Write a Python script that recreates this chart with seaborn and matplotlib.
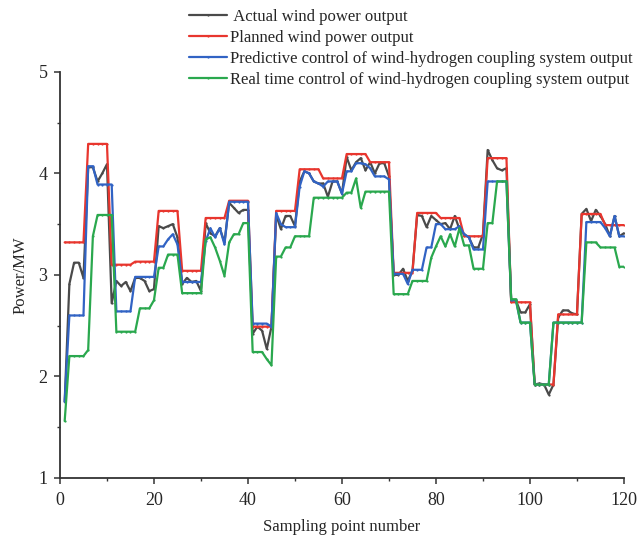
import numpy as np
import pandas as pd
import matplotlib
matplotlib.use("Agg")
import matplotlib.pyplot as plt
from matplotlib.ticker import MultipleLocator
import seaborn as sns

# Sampling points 1..120
sample_idx = list(range(1, 121))

actual_output = [
    1.75, 2.91, 3.12, 3.12, 2.97, 4.06, 4.06, 3.92, 4.00, 4.09,
    2.72, 2.94, 2.89, 2.93, 2.84, 2.97, 2.97, 2.94, 2.84, 2.86,
    3.48, 3.46, 3.48, 3.50, 3.37, 2.91, 2.97, 2.93, 2.94, 2.84,
    3.51, 3.41, 3.38, 3.46, 3.32, 3.71, 3.66, 3.61, 3.64, 3.64,
    2.42, 2.49, 2.45, 2.27, 2.49, 3.59, 3.45, 3.58, 3.58, 3.48,
    3.92, 4.02, 4.00, 3.92, 3.90, 3.90, 3.77, 3.92, 3.92, 3.80,
    4.16, 4.03, 4.11, 4.15, 4.03, 4.11, 4.00, 4.10, 4.10, 3.97,
    3.00, 3.00, 3.06, 2.94, 3.04, 3.59, 3.58, 3.47, 3.58, 3.54,
    3.50, 3.51, 3.45, 3.58, 3.45, 3.40, 3.37, 3.27, 3.27, 3.40,
    4.23, 4.13, 4.05, 4.03, 4.05, 2.75, 2.75, 2.63, 2.63, 2.71,
    1.92, 1.93, 1.92, 1.82, 1.92, 2.58, 2.65, 2.65, 2.62, 2.61,
    3.60, 3.65, 3.53, 3.64, 3.58, 3.50, 3.38, 3.58, 3.38, 3.41,
]

planned_output = (
    [3.32] * 5 + [4.29] * 5 + [3.10] * 5 + [3.13] * 5 +
    [3.63] * 5 + [3.04] * 5 + [3.56] * 5 + [3.73] * 5 +
    [2.49] * 5 + [3.63] * 5 + [4.04] * 5 + [3.95] * 5 +
    [4.19] * 5 + [4.11] * 5 + [3.02] * 5 + [3.61] * 5 +
    [3.56] * 5 + [3.38] * 5 + [4.15] * 5 + [2.73] * 5 +
    [1.92] * 5 + [2.61] * 5 + [3.60] * 5 + [3.49] * 5
)

predictive_output = [
    1.75, 2.60, 2.60, 2.60, 2.60, 4.07, 4.07, 3.89, 3.89, 3.89,
    3.89, 2.64, 2.64, 2.64, 2.64, 2.98, 2.98, 2.98, 2.98, 2.98,
    3.28, 3.28, 3.35, 3.40, 3.30, 2.93, 2.93, 2.93, 2.93, 2.93,
    3.33, 3.46, 3.37, 3.46, 3.30, 3.72, 3.72, 3.72, 3.72, 3.72,
    2.52, 2.52, 2.52, 2.52, 2.49, 3.61, 3.50, 3.47, 3.47, 3.47,
    3.87, 4.02, 4.00, 3.92, 3.90, 3.87, 3.92, 3.92, 3.92, 3.80,
    4.02, 4.02, 4.10, 4.10, 4.09, 4.05, 3.97, 3.97, 3.97, 3.94,
    3.01, 3.01, 3.01, 2.91, 3.05, 3.05, 3.05, 3.27, 3.27, 3.50,
    3.50, 3.45, 3.45, 3.45, 3.48, 3.40, 3.37, 3.25, 3.25, 3.25,
    3.92, 3.92, 3.92, 3.92, 3.92, 2.75, 2.75, 2.53, 2.53, 2.53,
    1.92, 1.92, 1.92, 1.92, 2.53, 2.53, 2.53, 2.53, 2.53, 2.53,
    2.53, 3.52, 3.52, 3.52, 3.52, 3.46, 3.38, 3.58, 3.38, 3.38,
]

realtime_output = [
    1.56, 2.20, 2.20, 2.20, 2.20, 2.26, 3.38, 3.59, 3.59, 3.59,
    3.59, 2.44, 2.44, 2.44, 2.44, 2.44, 2.67, 2.67, 2.67, 2.75,
    3.07, 3.07, 3.20, 3.20, 3.20, 2.82, 2.82, 2.82, 2.82, 2.82,
    3.35, 3.37, 3.27, 3.14, 2.99, 3.32, 3.40, 3.40, 3.51, 3.51,
    2.24, 2.24, 2.24, 2.17, 2.11, 3.18, 3.18, 3.27, 3.27, 3.38,
    3.38, 3.38, 3.38, 3.76, 3.76, 3.76, 3.76, 3.76, 3.76, 3.76,
    3.81, 3.81, 3.95, 3.66, 3.82, 3.82, 3.82, 3.82, 3.82, 3.82,
    2.81, 2.81, 2.81, 2.81, 2.94, 2.94, 2.94, 2.94, 3.17, 3.28,
    3.38, 3.28, 3.40, 3.28, 3.46, 3.29, 3.29, 3.06, 3.06, 3.06,
    3.51, 3.51, 3.92, 3.92, 3.92, 2.76, 2.76, 2.53, 2.53, 2.53,
    1.92, 1.92, 1.92, 1.92, 2.53, 2.53, 2.53, 2.53, 2.53, 2.53,
    2.53, 3.32, 3.32, 3.32, 3.27, 3.27, 3.27, 3.27, 3.08, 3.08,
]

series_labels = [
    " Actual wind power output",
    "Planned wind power output",
    "Predictive control of wind-hydrogen coupling system output",
    "Real time control of wind-hydrogen coupling system output",
]
series_colors = ["#4a4a4a", "#e8362e", "#3163c4", "#2aa84e"]

df = pd.DataFrame({
    "Sample": sample_idx * 4,
    "Power": actual_output + planned_output + predictive_output + realtime_output,
    "Series": sum([[lab] * 120 for lab in series_labels], []),
})

sns.set_style("ticks")
plt.rcParams["font.family"] = ["Liberation Serif", "DejaVu Serif"]

fig = plt.figure(figsize=(6.38, 5.40), dpi=100)
ax = fig.add_axes([0.094, 0.115, 0.884, 0.752])

sns.lineplot(
    data=df, x="Sample", y="Power", hue="Series",
    hue_order=series_labels, palette=series_colors,
    linewidth=1.6, marker="o", markersize=1.6, markeredgewidth=0,
    ax=ax, legend=False,
)

ax.set_xlim(0, 120)
ax.set_ylim(1, 5)
ax.xaxis.set_major_locator(MultipleLocator(20))
ax.xaxis.set_minor_locator(MultipleLocator(10))
ax.yaxis.set_major_locator(MultipleLocator(1))
ax.yaxis.set_minor_locator(MultipleLocator(0.5))
ax.tick_params(which="major", direction="out", length=4, width=1.1,
               labelsize=13, color="#333333")
ax.tick_params(axis="x", which="major", pad=6)
ax.tick_params(axis="y", which="major", pad=5)
ax.tick_params(which="minor", direction="out", length=2.5, width=1.0,
               color="#333333")

sns.despine(ax=ax)
for side in ("left", "bottom"):
    ax.spines[side].set_linewidth(1.3)
    ax.spines[side].set_color("#333333")

ax.set_xlabel("Sampling point number", fontsize=12, labelpad=7)
ax.set_ylabel("Power/MW", fontsize=12, labelpad=7)

handles = [
    plt.Line2D([], [], color=c, linewidth=1.6, marker="o", markersize=1.6,
               markeredgewidth=0)
    for c in series_colors
]
fig.legend(handles, series_labels, loc="upper left",
           bbox_to_anchor=(0.278, 1.005), frameon=False, fontsize=12,
           handlelength=2.3, handletextpad=0.15, labelspacing=0.3,
           borderpad=0.2)

fig.savefig("out.png", dpi=100)
